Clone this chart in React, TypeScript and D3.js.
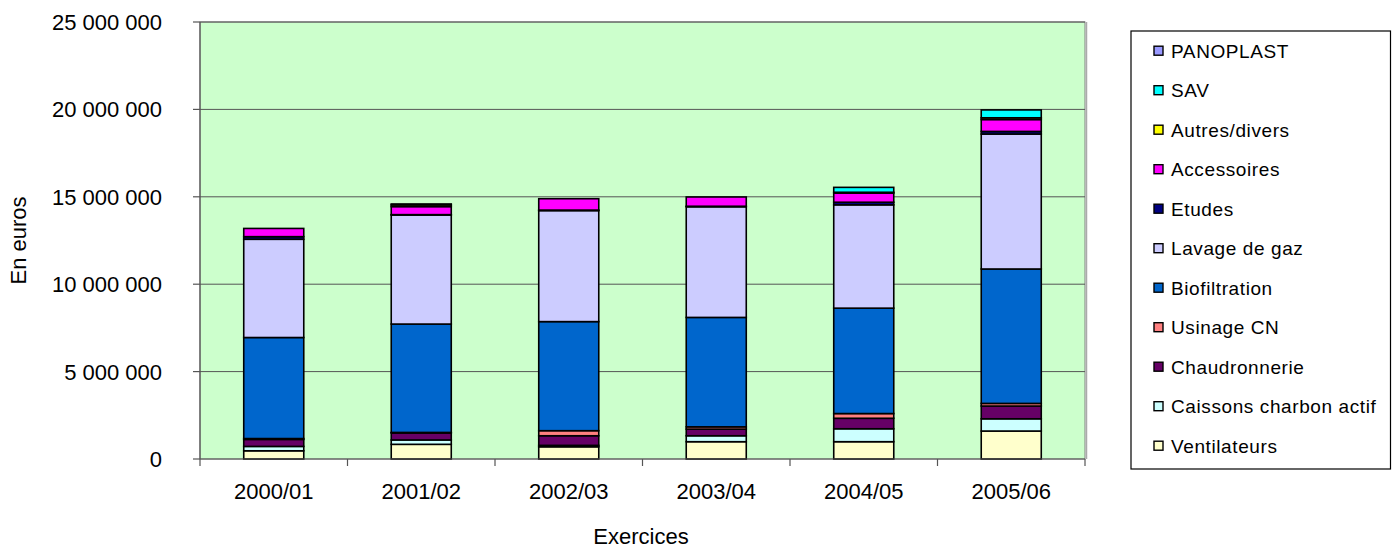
import React from 'react';
import * as d3 from 'd3';

const categories = ['2000/01', '2001/02', '2002/03', '2003/04', '2004/05', '2005/06'];

// values in euros, bottom of the stack first
const ventilateurs = [470000, 840000, 700000, 990000, 990000, 1600000];
const caissons = [250000, 250000, 80000, 340000, 740000, 700000];
const chaudronnerie = [400000, 400000, 550000, 380000, 600000, 730000];
const usinage = [50000, 30000, 290000, 130000, 270000, 150000];
const biofiltration = [5780000, 6200000, 6240000, 6260000, 6030000, 7690000];
const lavage = [5620000, 6240000, 6350000, 6330000, 5910000, 7720000];
const etudes = [150000, 20000, 30000, 30000, 150000, 150000];
const accessoires = [470000, 460000, 650000, 530000, 520000, 680000];
const autres = [0, 100000, 0, 0, 50000, 100000];
const sav = [0, 50000, 0, 0, 280000, 450000];
const panoplast = [0, 0, 0, 0, 0, 0];

const seriesNames = [
  'Ventilateurs', 'Caissons charbon actif', 'Chaudronnerie', 'Usinage CN', 'Biofiltration',
  'Lavage de gaz', 'Etudes', 'Accessoires', 'Autres/divers', 'SAV', 'PANOPLAST',
];
const seriesValues = [
  ventilateurs, caissons, chaudronnerie, usinage, biofiltration,
  lavage, etudes, accessoires, autres, sav, panoplast,
];
const seriesColors = [
  '#FFFFCC', '#CCFFFF', '#660066', '#FF8080', '#0066CC',
  '#CCCCFF', '#000080', '#FF00FF', '#FFFF00', '#00FFFF', '#9999FF',
];
const yTicks = [0, 5000000, 10000000, 15000000, 20000000, 25000000];

const W = 1397;
const H = 548;
const plot = { left: 200, right: 1085, top: 22, bottom: 459 };
const font = 'Arial, "Liberation Sans", sans-serif';

const fmt = (v: number) => d3.format(',')(v).replace(/,/g, ' ');

const App: React.FC = () => {
  React.useEffect(() => {
    document.body.style.margin = '0';
  }, []);

  const x = d3.scaleBand<string>()
    .domain(categories)
    .range([plot.left, plot.right])
    .paddingInner(0.593)
    .paddingOuter(0.2965);

  const y = d3.scaleLinear()
    .domain([0, 25000000])
    .range([plot.bottom, plot.top]);

  const rows = categories.map((c, i) => {
    const row: Record<string, number | string> = { cat: c };
    seriesNames.forEach((s, k) => { row[s] = seriesValues[k][i]; });
    return row;
  });
  const stacked = d3.stack<any>().keys(seriesNames)(rows);

  const step = x.step();
  const legendTop = 31;
  const legendRow = 39.5;

  return (
    <svg width={W} height={H} style={{ display: 'block', background: '#fff' }} fontFamily={font}>
      {/* plot background */}
      <rect x={plot.left} y={plot.top} width={plot.right - plot.left} height={plot.bottom - plot.top}
        fill="#CCFFCC" stroke="#808080" strokeWidth={1} />
      {/* gridlines */}
      {yTicks.filter(t => t > 0).map(t => (
        <line key={t} x1={plot.left} x2={plot.right} y1={y(t)} y2={y(t)} stroke="#555" strokeWidth={1} />
      ))}
      {/* right shadow */}
      <line x1={plot.right + 1.5} x2={plot.right + 1.5} y1={plot.top} y2={plot.bottom} stroke="#aaa" strokeWidth={1.5} />

      {/* bars */}
      {stacked.map((layer, k) => (
        <g key={seriesNames[k]}>
          {layer.map((d, i) => (
            <rect key={i}
              x={x(categories[i])}
              width={x.bandwidth()}
              y={y(d[1])}
              height={y(d[0]) - y(d[1])}
              fill={seriesColors[k]}
              stroke="#000"
              strokeWidth={1.6} />
          ))}
        </g>
      ))}

      {/* y axis */}
      <line x1={plot.left} x2={plot.left} y1={plot.top} y2={plot.bottom + 7} stroke="#555" strokeWidth={1.2} />
      {yTicks.map(t => (
        <g key={t}>
          <line x1={plot.left - 7} x2={plot.left} y1={y(t)} y2={y(t)} stroke="#555" strokeWidth={1.2} />
          <text x={162} y={y(t)} dy="0.36em" textAnchor="end" fontSize={22} fill="#000">{fmt(t)}</text>
        </g>
      ))}

      {/* x axis */}
      <line x1={plot.left} x2={plot.right} y1={plot.bottom} y2={plot.bottom} stroke="#555" strokeWidth={1.2} />
      {categories.map((c, i) => (
        <line key={'t' + c} x1={plot.left + step * (i + 1)} x2={plot.left + step * (i + 1)}
          y1={plot.bottom} y2={plot.bottom + 7} stroke="#555" strokeWidth={1.2} />
      ))}
      {categories.map(c => (
        <text key={c} x={(x(c) as number) + x.bandwidth() / 2} y={499} textAnchor="middle" fontSize={22} fill="#000">{c}</text>
      ))}

      {/* axis titles */}
      <text x={641} y={544} textAnchor="middle" fontSize={22} fill="#000">Exercices</text>
      <text transform={`translate(26,${(plot.top + plot.bottom) / 2}) rotate(-90)`} textAnchor="middle" fontSize={22} fill="#000">En euros</text>

      {/* legend */}
      <rect x={1131} y={31} width={259.5} height={438} fill="#fff" stroke="#000" strokeWidth={1.2} />
      {seriesNames.slice().reverse().map((s, j) => {
        const k = seriesNames.length - 1 - j;
        const cy = legendTop + 19.7 + j * legendRow;
        return (
          <g key={s}>
            <rect x={1154} y={cy - 4.5} width={9} height={9} fill={seriesColors[k]} stroke="#000" strokeWidth={1.4} />
            <text x={1171} y={cy} dy="0.36em" fontSize={19} letterSpacing={0.6} fill="#000">{s}</text>
          </g>
        );
      })}
    </svg>
  );
};

export default App;
